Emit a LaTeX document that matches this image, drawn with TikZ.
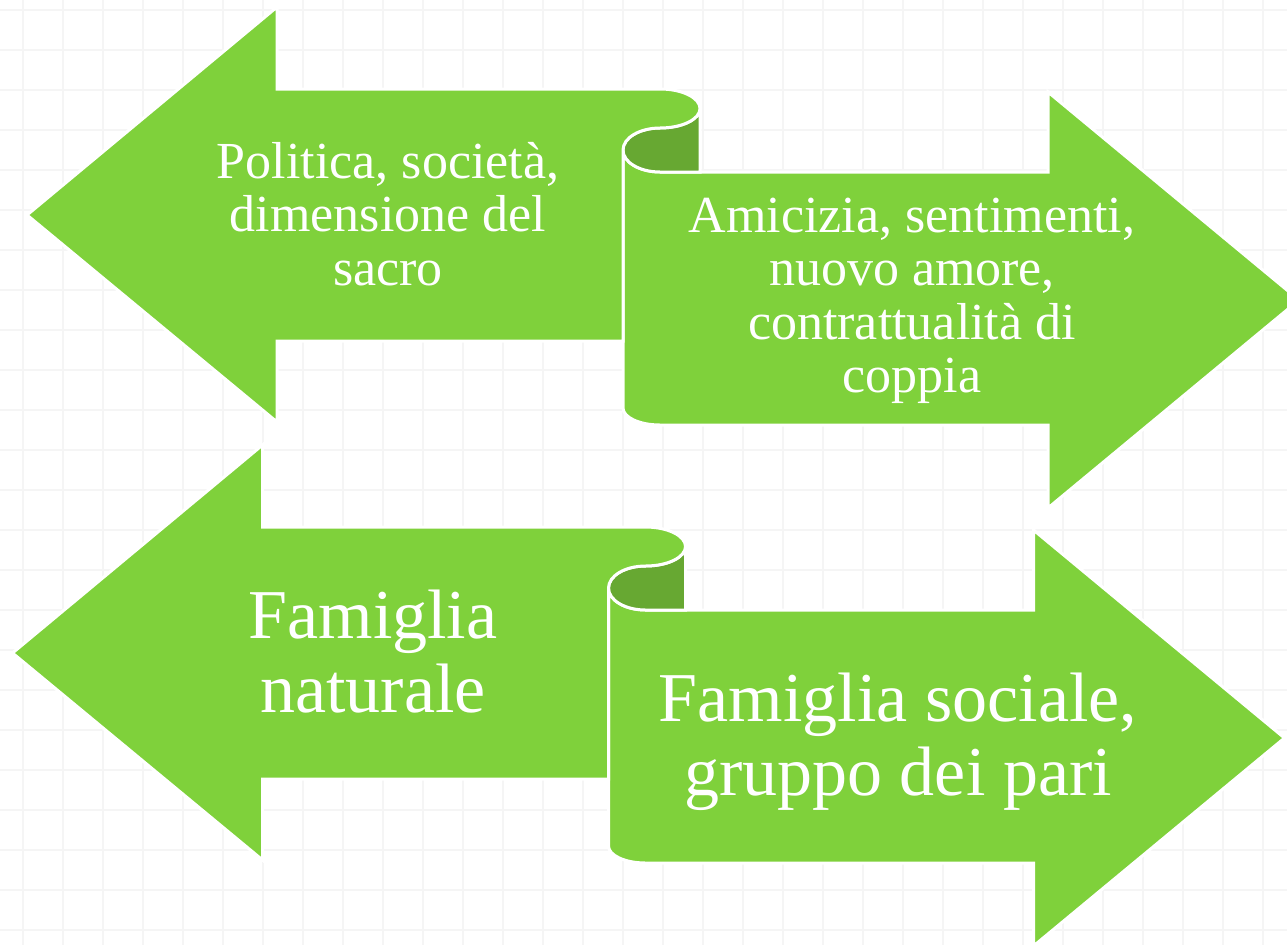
\documentclass[tikz,border=0pt]{standalone}
\usepackage{fontspec}
\setmainfont{Liberation Serif}
\definecolor{leafgreen}{HTML}{7FD13B}
\definecolor{darkleaf}{HTML}{67A832}
\definecolor{gridgray}{HTML}{F5F5F5}
\tikzset{
  gridline/.style={draw=gridgray, line width=1.3pt},
  arrowshape/.style={fill=leafgreen, draw=white, line width=3pt, line join=miter},
  curlback/.style={fill=darkleaf, draw=white, line width=3pt},
  smalltext/.style={text=white, align=center, inner sep=0pt, font=\fontsize{52}{53.5}\selectfont},
  bigtext/.style={text=white, align=center, inner sep=0pt, font=\fontsize{70}{74}\selectfont},
}
\newcommand{\scrollpair}{%
  % right-pointing arrow (lower body of the scroll)
  \path[arrowshape] (623,150) -- (623,408)
    arc[start angle=180,end angle=90,x radius=37,y radius=17]
    -- (1048,425) -- (1048,508) -- (1299,300) -- (1048,92) -- (1048,172) -- (660,172)
    arc[start angle=90,end angle=180,x radius=37,y radius=22] -- cycle;
  % dark back of the curl
  \path[curlback] (623,150)
    arc[start angle=180,end angle=270,x radius=37,y radius=22]
    arc[start angle=90,end angle=0,x radius=40,y radius=19.5]
    -- (700,172) -- (660,172)
    arc[start angle=90,end angle=180,x radius=37,y radius=22] -- cycle;
  % left-pointing arrow (upper body of the scroll)
  \path[arrowshape] (27,215) -- (277,7) -- (277,89) -- (660,89)
    arc[start angle=-90,end angle=90,x radius=40,y radius=19.5]
    arc[start angle=-90,end angle=-180,x radius=37,y radius=22]
    -- (623,341) -- (277,341) -- (277,422) -- cycle;
}
\begin{document}
\begin{tikzpicture}[x=1pt,y=-1pt]
  \useasboundingbox (0,0) rectangle (1287,945);
  \clip (0,0) rectangle (1287,945);
  \fill[white] (0,0) rectangle (1287,945);
  \foreach \gx in {23,63,...,1287} \draw[gridline] (\gx,0) -- (\gx,945);
  \foreach \gy in {10,50,...,945} \draw[gridline] (0,\gy) -- (1287,\gy);

  \scrollpair
  \begin{scope}[shift={(-14.5,438)}]
    \scrollpair
  \end{scope}

  \node[smalltext] (politica) at (388,214) {Politica, società,\\dimensione del\\sacro};
  \node[smalltext] (amicizia) at (912,301) {Amicizia, sentimenti,\\nuovo amore,\\contrattualità di\\coppia};
  \node[bigtext] (naturale) at (373,652) {Famiglia\\naturale};
  \node[bigtext] (sociale) at (898,741.5) {Famiglia sociale,\\gruppo dei pari};
\end{tikzpicture}
\end{document}
